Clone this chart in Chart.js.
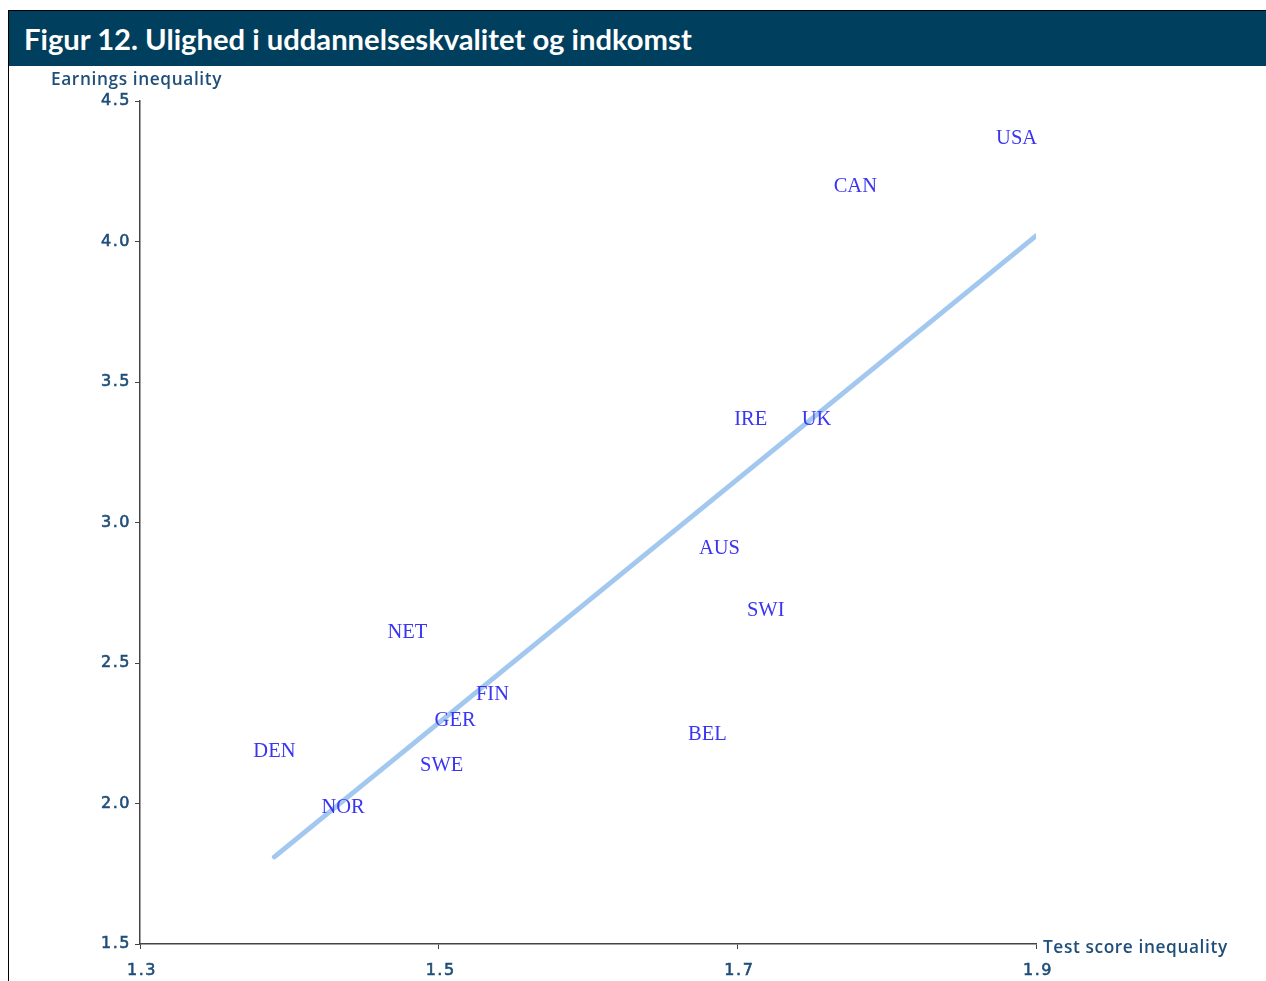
<!DOCTYPE html>
<html>
<head>
<meta charset="utf-8">
<script src="https://cdn.jsdelivr.net/npm/chart.js@4/dist/chart.umd.min.js"></script>
<style>
  body { margin: 0; background: #fff; width: 1266px; height: 981px; overflow: hidden; position: relative; }
  .frame { position: absolute; left: 8px; top: 10px; width: 1258px; height: 971px; border-left: 1px solid #000; border-top: 1px solid #000; }
  .title { position: absolute; left: 9px; top: 11px; width: 1257px; height: 55px; background: #003f5e; color: #fff;
    font: bold 29.2px Lato, "Open Sans", sans-serif; line-height: 55px; padding-left: 15px; box-sizing: border-box; }
  #wrap { position: absolute; left: 0; top: 0; width: 1266px; height: 981px; }
</style>
</head>
<body>
<div class="frame"></div>
<div class="title">Figur 12. Ulighed i uddannelseskvalitet og indkomst</div>
<div id="wrap"><canvas id="chart"></canvas></div>
<script>
// country labels, plotted at (test score inequality, earnings inequality)
var countries = ["USA", "CAN", "IRE", "UK", "AUS", "SWI", "NET", "FIN", "GER", "BEL", "DEN", "SWE", "NOR"];
var testScore = [1.887, 1.779, 1.709, 1.753, 1.688, 1.719, 1.479, 1.536, 1.511, 1.680, 1.390, 1.502, 1.436];
var earnings = [4.37, 4.20, 3.37, 3.37, 2.91, 2.69, 2.61, 2.39, 2.30, 2.25, 2.19, 2.14, 1.99];

// fitted line end points
var fitX = [1.39, 1.9];
var fitY = [1.81, 4.02];

var xTicks = [1.3, 1.5, 1.7, 1.9];
var yTicks = [1.5, 2.0, 2.5, 3.0, 3.5, 4.0, 4.5];

var axisColor = "#1f4e79";

var labelPlugin = {
  id: "countryLabels",
  afterDatasetsDraw: function (chart) {
    var ctx = chart.ctx;
    var meta = chart.getDatasetMeta(1);
    var area = chart.chartArea;
    ctx.save();
    ctx.font = "20.5px 'Liberation Serif', 'Times New Roman', serif";
    ctx.fillStyle = "#3b35f2";
    ctx.textAlign = "center";
    ctx.textBaseline = "middle";
    meta.data.forEach(function (pt, i) {
      ctx.fillText(countries[i], pt.x, pt.y + 1);
    });

    // tick labels (spaced out like the original)
    ctx.font = "16px 'DejaVu Sans', Verdana, sans-serif";
    ctx.fillStyle = axisColor;
    ctx.strokeStyle = axisColor;
    ctx.lineWidth = 0.6;
    ctx.letterSpacing = "1.5px";
    ctx.textAlign = "right";
    yTicks.forEach(function (v) {
      var y = chart.scales.y.getPixelForValue(v);
      ctx.fillText(v.toFixed(1), area.left - 9, y);
      ctx.strokeText(v.toFixed(1), area.left - 9, y);
    });
    ctx.textAlign = "center";
    xTicks.forEach(function (v) {
      var x = chart.scales.x.getPixelForValue(v) + 2;
      ctx.fillText(v.toFixed(1), x, area.bottom + 27);
      ctx.strokeText(v.toFixed(1), x, area.bottom + 27);
    });

    // axis titles
    ctx.font = "600 17.3px 'Open Sans', Lato, sans-serif";
    ctx.letterSpacing = "0.6px";
    ctx.textAlign = "left";
    ctx.fillText("Earnings inequality", 51, 80);
    ctx.fillText("Test score inequality", area.right + 7, area.bottom + 4);
    ctx.restore();
  }
};

var ctx = document.getElementById("chart").getContext("2d");
var chart = new Chart(ctx, {
  type: "scatter",
  data: {
    datasets: [
      {
        data: fitX.map(function (x, i) { return { x: x, y: fitY[i] }; }),
        showLine: true,
        borderColor: "#a3c8f0",
        borderWidth: 5,
        borderCapStyle: "round",
        pointRadius: 0
      },
      {
        data: testScore.map(function (x, i) { return { x: x, y: earnings[i] }; }),
        pointRadius: 0
      }
    ]
  },
  options: {
    responsive: true,
    maintainAspectRatio: false,
    animation: false,
    layout: { padding: { top: 101, right: 230, left: 0, bottom: 0 } },
    plugins: { legend: { display: false }, tooltip: { enabled: false } },
    scales: {
      x: {
        type: "linear",
        min: 1.3,
        max: 1.9,
        afterBuildTicks: function (s) { s.ticks = xTicks.map(function (v) { return { value: v }; }); },
        afterFit: function (s) { s.height = 37; },
        border: { color: "#444", width: 1.5 },
        grid: { drawOnChartArea: false, drawTicks: true, tickLength: 5, color: "#444" },
        ticks: { display: false }
      },
      y: {
        min: 1.5,
        max: 4.5,
        afterBuildTicks: function (s) { s.ticks = yTicks.map(function (v) { return { value: v }; }); },
        afterFit: function (s) { s.width = 140; },
        border: { color: "#444", width: 1.5 },
        grid: { drawOnChartArea: false, drawTicks: true, tickLength: 5, color: "#444" },
        ticks: { display: false }
      }
    }
  },
  plugins: [labelPlugin]
});
</script>
</body>
</html>
